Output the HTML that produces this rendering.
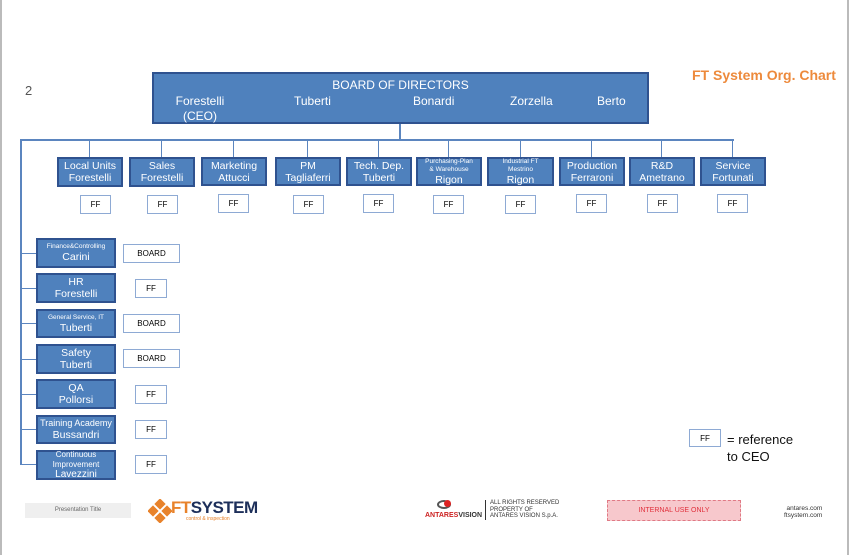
<!DOCTYPE html>
<html><head><meta charset="utf-8"><style>
*{margin:0;padding:0;box-sizing:border-box}
body{width:850px;height:555px;background:#fff;position:relative;overflow:hidden;font-family:"Liberation Sans",sans-serif}
.a{position:absolute}
.b{position:absolute;background:#4f81bd;border:2px solid #2f528f;color:#fff;text-align:center;font-size:10.5px;line-height:12px;display:flex;flex-direction:column;justify-content:center;align-items:center}
.f{position:absolute;background:#fff;border:1.5px solid #8eaad4;color:#000;font-size:8px;text-align:center;display:flex;align-items:center;justify-content:center}
.l{position:absolute;background:#5b85bf}
.s{font-size:6.5px;line-height:8px}
</style></head><body>
<div class="a" style="left:0;top:0;width:2px;height:555px;background:#bbb"></div>
<div class="a" style="left:847px;top:0;width:2px;height:555px;background:#bbb"></div>
<div class="a" style="left:25px;top:83px;font-size:13px;color:#555">2</div>
<div class="a" style="left:692px;top:67px;font-size:14px;color:#ed8a3c;font-weight:bold">FT System Org. Chart</div>

<div class="b" style="left:152px;top:72px;width:497px;height:52px;display:block;font-size:12px;line-height:15px">
<div class="a" style="left:0;width:493px;top:4px;text-align:center">BOARD OF DIRECTORS</div>
<div class="a" style="left:16px;top:20px;width:60px">Forestelli<br>(CEO)</div>
<div class="a" style="left:140px;top:20px">Tuberti</div>
<div class="a" style="left:259px;top:20px">Bonardi</div>
<div class="a" style="left:356px;top:20px">Zorzella</div>
<div class="a" style="left:443px;top:20px">Berto</div>
</div>

<div class="l" style="left:399px;top:124px;width:2px;height:17px"></div>
<div class="l" style="left:20px;top:139px;width:714px;height:2px"></div>
<div class="l" style="left:20px;top:139px;width:2px;height:326px"></div>

<div class="l" style="left:89px;top:140px;width:1px;height:17px"></div>
<div class="l" style="left:161px;top:140px;width:1px;height:17px"></div>
<div class="l" style="left:233px;top:140px;width:1px;height:17px"></div>
<div class="l" style="left:307px;top:140px;width:1px;height:17px"></div>
<div class="l" style="left:378px;top:140px;width:1px;height:17px"></div>
<div class="l" style="left:448px;top:140px;width:1px;height:17px"></div>
<div class="l" style="left:520px;top:140px;width:1px;height:17px"></div>
<div class="l" style="left:591px;top:140px;width:1px;height:17px"></div>
<div class="l" style="left:661px;top:140px;width:1px;height:17px"></div>
<div class="l" style="left:732px;top:140px;width:1px;height:17px"></div>

<div class="b" style="left:57px;top:157px;width:66px;height:30px">Local Units<br>Forestelli</div>
<div class="b" style="left:129px;top:157px;width:66px;height:30px">Sales<br>Forestelli</div>
<div class="b" style="left:201px;top:157px;width:66px;height:29px">Marketing<br>Attucci</div>
<div class="b" style="left:275px;top:157px;width:66px;height:29px">PM<br>Tagliaferri</div>
<div class="b" style="left:346px;top:157px;width:66px;height:29px">Tech. Dep.<br>Tuberti</div>
<div class="b" style="left:416px;top:157px;width:66px;height:29px"><span class="s">Purchasing-Plan<br>&amp; Warehouse</span>Rigon</div>
<div class="b" style="left:487px;top:157px;width:67px;height:29px"><span class="s">Industrial FT<br>Mestrino</span>Rigon</div>
<div class="b" style="left:559px;top:157px;width:66px;height:29px">Production<br>Ferraroni</div>
<div class="b" style="left:629px;top:157px;width:66px;height:29px">R&amp;D<br>Ametrano</div>
<div class="b" style="left:700px;top:157px;width:66px;height:29px">Service<br>Fortunati</div>

<div class="f" style="left:80px;top:195px;width:31px;height:19px">FF</div>
<div class="f" style="left:147px;top:195px;width:31px;height:19px">FF</div>
<div class="f" style="left:218px;top:194px;width:31px;height:19px">FF</div>
<div class="f" style="left:293px;top:195px;width:31px;height:19px">FF</div>
<div class="f" style="left:363px;top:194px;width:31px;height:19px">FF</div>
<div class="f" style="left:433px;top:195px;width:31px;height:19px">FF</div>
<div class="f" style="left:505px;top:195px;width:31px;height:19px">FF</div>
<div class="f" style="left:576px;top:194px;width:31px;height:19px">FF</div>
<div class="f" style="left:647px;top:194px;width:31px;height:19px">FF</div>
<div class="f" style="left:717px;top:194px;width:31px;height:19px">FF</div>

<div class="l" style="left:21px;top:253px;width:15px;height:1px"></div>
<div class="l" style="left:21px;top:288px;width:15px;height:1px"></div>
<div class="l" style="left:21px;top:323px;width:15px;height:1px"></div>
<div class="l" style="left:21px;top:359px;width:15px;height:1px"></div>
<div class="l" style="left:21px;top:394px;width:15px;height:1px"></div>
<div class="l" style="left:21px;top:429px;width:15px;height:1px"></div>
<div class="l" style="left:21px;top:464px;width:15px;height:1px"></div>

<div class="b" style="left:36px;top:238px;width:80px;height:30px"><span class="s">Finance&amp;Controlling</span>Carini</div>
<div class="b" style="left:36px;top:273px;width:80px;height:30px">HR<br>Forestelli</div>
<div class="b" style="left:36px;top:309px;width:80px;height:29px"><span class="s">General Service, IT</span>Tuberti</div>
<div class="b" style="left:36px;top:344px;width:80px;height:30px">Safety<br>Tuberti</div>
<div class="b" style="left:36px;top:379px;width:80px;height:30px">QA<br>Pollorsi</div>
<div class="b" style="left:36px;top:415px;width:80px;height:29px"><span style="font-size:9px;line-height:11px">Training Academy</span>Bussandri</div>
<div class="b" style="left:36px;top:450px;width:80px;height:30px;font-size:8px;line-height:10px">Continuous<br>Improvement<br><span style="font-size:10px">Lavezzini</span></div>

<div class="f" style="left:123px;top:244px;width:57px;height:19px">BOARD</div>
<div class="f" style="left:135px;top:279px;width:32px;height:19px">FF</div>
<div class="f" style="left:123px;top:314px;width:57px;height:19px">BOARD</div>
<div class="f" style="left:123px;top:349px;width:57px;height:19px">BOARD</div>
<div class="f" style="left:135px;top:385px;width:32px;height:19px">FF</div>
<div class="f" style="left:135px;top:420px;width:32px;height:19px">FF</div>
<div class="f" style="left:135px;top:455px;width:32px;height:19px">FF</div>

<div class="f" style="left:689px;top:429px;width:32px;height:18px">FF</div>
<div class="a" style="left:727px;top:431px;font-size:13px;line-height:17px;color:#111">= reference<br>to CEO</div>

<div class="a" style="left:25px;top:503px;width:106px;height:15px;background:#efefef;font-size:6px;color:#666;text-align:center;line-height:15px">Presentation Title</div>
<svg class="a" style="left:148px;top:499px" width="24" height="24"><g fill="#e8822a"><rect x="8" y="1" width="8" height="8" transform="rotate(45 12 5)"/><rect x="1" y="8" width="8" height="8" transform="rotate(45 5 12)"/><rect x="15" y="8" width="8" height="8" transform="rotate(45 19 12)"/><rect x="8" y="15" width="8" height="8" transform="rotate(45 12 19)"/></g></svg>
<div class="a" style="left:171px;top:498px;font-size:17px;font-weight:bold;color:#1d2f5a;letter-spacing:-0.5px"><span style="color:#e8822a">FT</span>SYSTEM</div>
<div class="a" style="left:186px;top:516px;font-size:5px;color:#e8822a">control &amp; inspection</div>
<div class="a" style="left:437px;top:500px;width:14px;height:9px;border-radius:50%;border:2px solid #555"></div>
<div class="a" style="left:444px;top:500px;width:7px;height:7px;border-radius:50%;background:#d22"></div>
<div class="a" style="left:425px;top:512px;font-size:7px;font-weight:bold;color:#c22">ANTARES<span style="color:#333">VISION</span></div>
<div class="a" style="left:485px;top:500px;width:1px;height:20px;background:#333"></div>
<div class="a" style="left:490px;top:500px;font-size:6px;line-height:6.5px;color:#333">ALL RIGHTS RESERVED<br>PROPERTY OF<br>ANTARES VISION S.p.A.</div>
<div class="a" style="left:607px;top:500px;width:134px;height:21px;background:#f7c8cc;border:1px dashed #e07a85;font-size:7px;color:#e0303c;text-align:center;line-height:19px">INTERNAL USE ONLY</div>
<div class="a" style="left:784px;top:505px;font-size:6.5px;line-height:7px;color:#333;text-align:right">antares.com<br>ftsystem.com</div>
</body></html>
